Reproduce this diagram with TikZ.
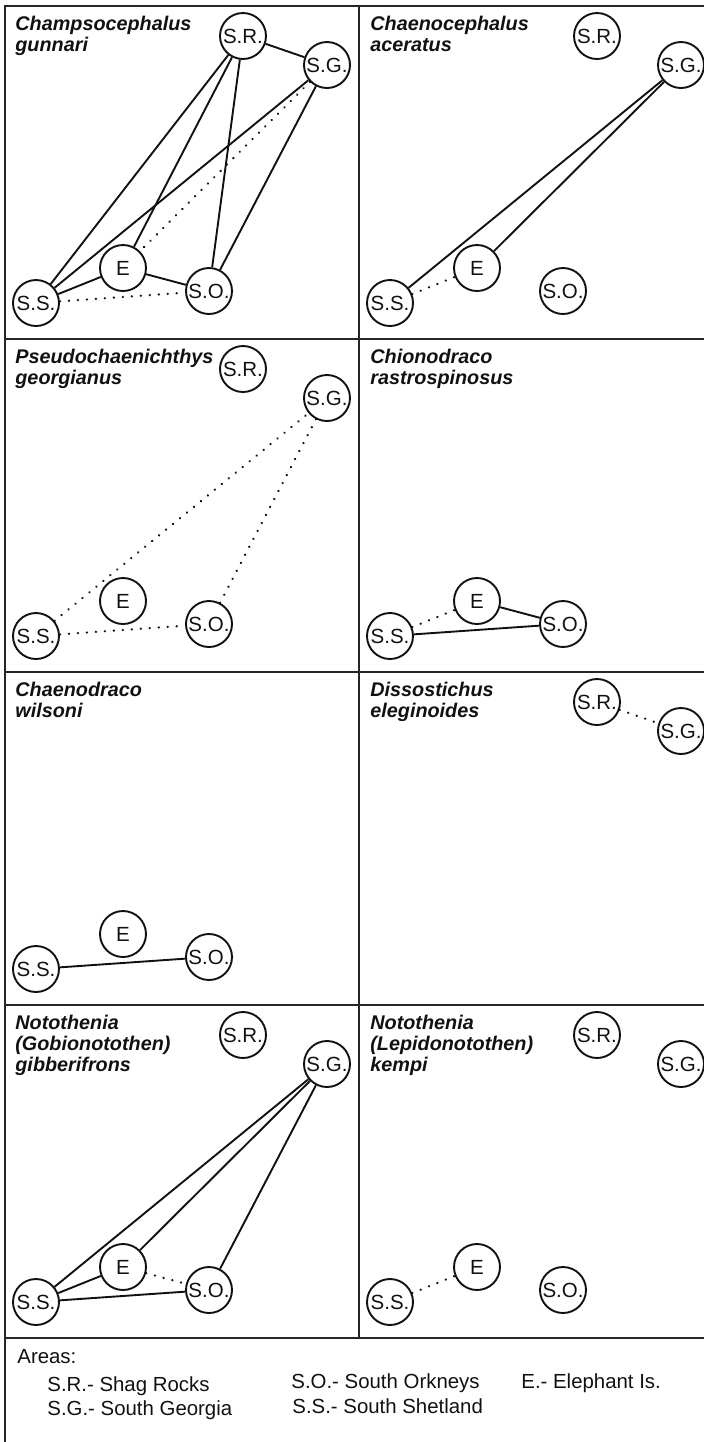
\documentclass[tikz,border=0pt]{standalone}
\usepackage{fontspec}
\setmainfont{Liberation Sans}
\usepackage{xcolor}
\definecolor{ink}{HTML}{111111}
\definecolor{frame}{HTML}{262626}
\newcommand{\lblsr}{S.R.}
\newcommand{\lblsg}{S.G.}
\newcommand{\lble}{E}
\newcommand{\lblso}{S.O.}
\newcommand{\lblss}{S.S.}

\begin{document}
\begin{tikzpicture}[
  x=0.5pt,y=-0.5pt,
  area/.style={circle,draw=ink,line width=0.95pt,minimum size=23pt,inner sep=0pt,
    text=ink,font=\fontsize{10.25}{11}\selectfont},
  species/.style={anchor=north west,inner sep=0pt,align=left,text=ink,
    font=\fontsize{9.9}{10.5}\selectfont\bfseries\itshape},
  key/.style={anchor=base west,inner sep=0pt,text=ink,font=\fontsize{10.2}{12}\selectfont},
  link/.style={ink,line width=0.95pt},
  weak/.style={ink,line width=1.2pt,dash pattern=on 0.1pt off 4.4pt,line cap=round},
  grid/.style={frame,line width=0.85pt}
]
\useasboundingbox (0,0) rectangle (704,1442);

% where the five areas sit inside one panel
\coordinate (sr) at (238,30);
\coordinate (sg) at (322,59);
\coordinate (e) at (118,262);
\coordinate (so) at (204,285);
\coordinate (ss) at (31,297);

% panel frame
\draw[grid] (704,6) -- (5,6) -- (5,1442);
\draw[grid] (359,6) -- (359,1338);
\foreach \y in {339,672,1005,1338}
  \draw[grid] (5,\y) -- (704,\y);

% species names
\node[species] (cgname) at (15,16) {Champsocephalus\\gunnari};
\node[species] (caname) at (370,16) {Chaenocephalus\\aceratus};
\node[species] (pgname) at (15,349) {Pseudochaenichthys\\georgianus};
\node[species] (crname) at (370,349) {Chionodraco\\rastrospinosus};
\node[species] (cwname) at (15,682) {Chaenodraco\\wilsoni};
\node[species] (dename) at (370,682) {Dissostichus\\eleginoides};
\node[species] (ngname) at (15,1015) {Notothenia\\(Gobionotothen)\\gibberifrons};
\node[species] (nkname) at (370,1015) {Notothenia\\(Lepidonotothen)\\kempi};

% areas in each panel
\foreach \pan/\px/\py/\set in {cg/5/6/{sr,sg,e,so,ss}, ca/359/6/{sr,sg,e,so,ss},
    pg/5/339/{sr,sg,e,so,ss}, cr/359/339/{e,so,ss}, cw/5/672/{e,so,ss},
    de/359/672/{sr,sg}, ng/5/1005/{sr,sg,e,so,ss}, nk/359/1005/{sr,sg,e,so,ss}}
  \foreach \a in \set
    \node[area] (\pan-\a) at ([shift={(\px,\py)}]\a) {\csname lbl\a\endcsname};

% solid links
\foreach \u/\v in {cg-sr/cg-sg,cg-sr/cg-ss,cg-sr/cg-e,cg-sr/cg-so,cg-sg/cg-ss,
    cg-sg/cg-so,cg-ss/cg-e,cg-e/cg-so,ca-ss/ca-sg,ca-e/ca-sg,cr-e/cr-so,
    cr-ss/cr-so,cw-ss/cw-so,ng-ss/ng-sg,ng-e/ng-sg,ng-so/ng-sg,ng-ss/ng-e,ng-ss/ng-so}
  \draw[link] (\u) -- (\v);
% dotted links
\foreach \u/\v in {cg-sg/cg-e,cg-ss/cg-so,ca-ss/ca-e,pg-ss/pg-sg,pg-so/pg-sg,
    pg-ss/pg-so,cr-ss/cr-e,de-sr/de-sg,ng-e/ng-so,nk-ss/nk-e}
  \draw[weak] (\u) -- (\v);

% key
\node[key] (areas) at (17,1363) {Areas:};
\node[key] (ksr) at (47,1391) {S.R.- Shag Rocks};
\node[key] (ksg) at (47,1415) {S.G.- South Georgia};
\node[key] (kso) at (291,1388) {S.O.- South Orkneys};
\node[key] (kss) at (292,1413) {S.S.- South Shetland};
\node[key] (ke) at (521,1388) {E.- Elephant Is.};
\end{tikzpicture}
\end{document}
